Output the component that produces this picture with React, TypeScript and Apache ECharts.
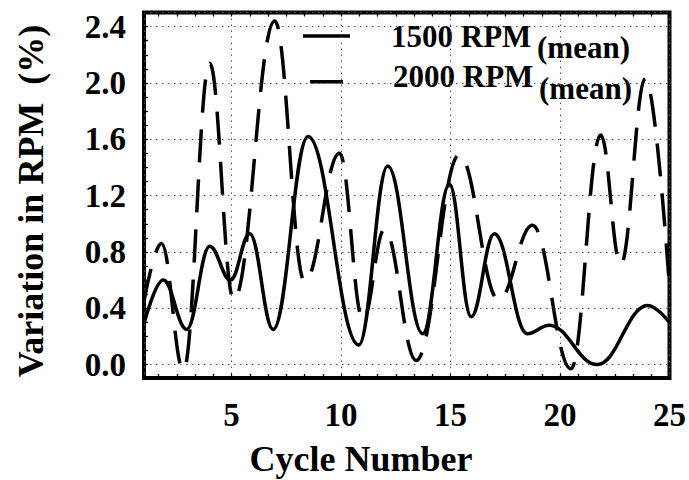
import React, { useEffect, useRef } from 'react';
import * as echarts from 'echarts';

// 1500 RPM (mean): cycle positions of turning points and values (%)
const cycles1500 = [1.0, 1.88, 2.95, 4.0, 4.95, 5.83, 6.9, 8.49, 10.81, 12.13, 13.73, 14.95, 15.94, 17.0, 18.5, 19.5, 21.7, 24.0, 25.0];
const rpm1500 = [0.29, 0.60, 0.25, 0.84, 0.60, 0.93, 0.25, 1.62, 0.14, 1.41, 0.22, 1.28, 0.34, 0.93, 0.22, 0.28, 0.0, 0.42, 0.30];

// 2000 RPM (mean)
const cycles2000 = [1.0, 1.8, 2.8, 4.0, 5.1, 6.97, 8.34, 9.93, 11.0, 11.98, 13.43, 15.4, 17.2, 18.74, 20.5, 21.86, 22.77, 23.9, 25.0];
const rpm2000 = [0.45, 0.86, -0.04, 2.14, 0.46, 2.44, 0.59, 1.50, 0.32, 0.96, 0.03, 1.49, 0.46, 0.99, -0.03, 1.63, 0.71, 2.03, 0.55];

const seriesNames = ['1500 RPM', '2000 RPM'];
const seriesSub = '(mean)';
const xTickValues = [5, 10, 15, 20, 25];
const yTickValues = [0.0, 0.4, 0.8, 1.2, 1.6, 2.0, 2.4];
const xTitle = 'Cycle Number';
const yTitle = 'Variation in RPM  (%)';

export default function App() {
  const ref = useRef<HTMLDivElement>(null);
  useEffect(() => {
    if (!ref.current) return;
    const chart = echarts.init(ref.current, null, { renderer: 'svg' });
    const font = 'Liberation Serif';
    const dotted = { type: [1.5, 4.5], color: '#555', width: 1 };
    const tickStyle = { color: '#000', width: 1.3 };
    const L = 144, R = 19.5, T = 12.5, B = 102;
    const yZeroB = 115.4;
    const labelStyle = { fontSize: 33, fontWeight: 'bold', fontFamily: font, color: '#000' };
    const textFont = (size: number) => ({ fontSize: size, fontWeight: 'bold', fontFamily: font, fill: '#000' });

    const option: any = {
      animation: false,
      backgroundColor: '#fff',
      textStyle: { fontFamily: font },
      grid: [
        { left: L, right: R, top: T, bottom: B, show: true, borderColor: '#000', borderWidth: 4, backgroundColor: 'transparent' },
        { left: L, right: R, top: T, bottom: yZeroB },
        { left: L + 21.9 * (5 / 3 - 1), right: R, top: T, bottom: B },
      ],
      xAxis: [
        {
          gridIndex: 0, type: 'value', min: 1, max: 25, splitNumber: 5,
          axisLine: { show: false }, axisTick: { show: false },
          axisLabel: { ...labelStyle, margin: 20, formatter: (v: number) => (xTickValues.includes(v) ? String(v) : '') },
          splitLine: { show: true, lineStyle: dotted },
        },
        { gridIndex: 1, type: 'value', min: 1, max: 25, show: false },
        {
          gridIndex: 2, type: 'value', position: 'bottom', min: 5 / 3, max: 25, interval: 5 / 6,
          axisLine: { show: false }, axisLabel: { show: false }, splitLine: { show: false },
          axisTick: { show: true, inside: true, length: 4, lineStyle: tickStyle },
        },
        {
          gridIndex: 2, type: 'value', position: 'top', min: 5 / 3, max: 25, interval: 5 / 6,
          axisLine: { show: false }, axisLabel: { show: false }, splitLine: { show: false },
          axisTick: { show: true, inside: true, length: 4, lineStyle: tickStyle },
        },
      ],
      yAxis: [
        { gridIndex: 0, type: 'value', min: -0.095, max: 2.5, show: false },
        {
          gridIndex: 1, type: 'value', position: 'left', min: 0, max: 2.5, interval: 0.4,
          axisLine: { show: false }, axisTick: { show: false },
          axisLabel: {
            ...labelStyle, margin: 18,
            formatter: (v: number) => (yTickValues.some((t) => Math.abs(t - v) < 1e-6) ? v.toFixed(1) : ''),
          },
          splitLine: { show: true, lineStyle: dotted },
        },
        {
          gridIndex: 1, type: 'value', position: 'left', min: 0, max: 2.5, interval: 0.1,
          axisLine: { show: false }, axisLabel: { show: false }, splitLine: { show: false },
          axisTick: { show: true, inside: true, length: 4, lineStyle: tickStyle },
        },
        { gridIndex: 2, type: 'value', min: 0, max: 1, show: false },
      ],
      series: [
        {
          name: seriesNames[0], type: 'line', xAxisIndex: 0, yAxisIndex: 0,
          data: cycles1500.map((c, i) => [c, rpm1500[i]]),
          showSymbol: false, symbol: 'none', smooth: 0.4, smoothMonotone: 'x',
          lineStyle: { color: '#000', width: 3.5 }, z: 3,
        },
        {
          name: seriesNames[1], type: 'line', xAxisIndex: 0, yAxisIndex: 0,
          data: cycles2000.map((c, i) => [c, rpm2000[i]]),
          showSymbol: false, symbol: 'none', smooth: 0.4, smoothMonotone: 'x',
          lineStyle: { color: '#000', width: 3.5, type: [33, 17], cap: 'butt' }, z: 3,
        },
      ],
      graphic: [
        { type: 'line', shape: { x1: 303, y1: 36, x2: 350, y2: 36 }, style: { stroke: '#000', lineWidth: 3.5 } },
        { type: 'text', x: 391, y: 36.5, style: { text: seriesNames[0], ...textFont(31), align: 'left', verticalAlign: 'middle', textAlign: 'left', textVerticalAlign: 'middle' } },
        { type: 'text', x: 537, y: 47, style: { text: seriesSub, ...textFont(31), align: 'left', verticalAlign: 'middle', textAlign: 'left', textVerticalAlign: 'middle' } },
        { type: 'line', shape: { x1: 310, y1: 81.7, x2: 343, y2: 81.7 }, style: { stroke: '#000', lineWidth: 3.5 } },
        { type: 'text', x: 393, y: 76.5, style: { text: seriesNames[1], ...textFont(31), align: 'left', verticalAlign: 'middle', textAlign: 'left', textVerticalAlign: 'middle' } },
        { type: 'text', x: 539, y: 88, style: { text: seriesSub, ...textFont(31), align: 'left', verticalAlign: 'middle', textAlign: 'left', textVerticalAlign: 'middle' } },
        { type: 'text', x: 361, y: 459, style: { text: xTitle, ...textFont(36), align: 'center', verticalAlign: 'middle', textAlign: 'center', textVerticalAlign: 'middle' } },
        { type: 'text', x: 31, y: 201, rotation: Math.PI / 2, style: { text: yTitle, ...textFont(36), align: 'center', verticalAlign: 'middle', textAlign: 'center', textVerticalAlign: 'middle' } },
      ],
    };
    chart.setOption(option);
    return () => chart.dispose();
  }, []);
  return (
    <div
      ref={ref}
      style={{ position: 'fixed', left: 0, top: 0, width: 689, height: 480, background: '#fff' }}
    />
  );
}
